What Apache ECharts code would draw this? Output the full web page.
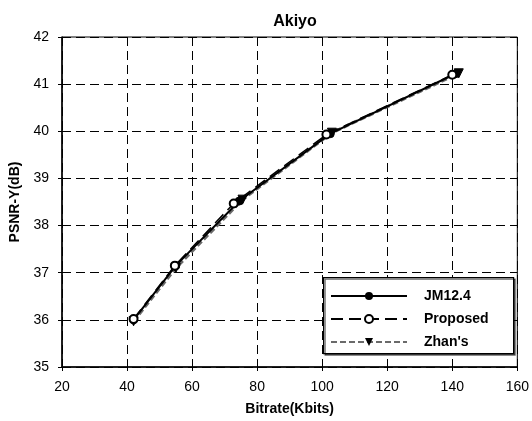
<!DOCTYPE html>
<html>
<head>
<meta charset="utf-8">
<script src="https://cdn.jsdelivr.net/npm/echarts@6/dist/echarts.min.js"></script>
<style>html,body{margin:0;padding:0;background:#fff}#c{width:532px;height:421px}</style>
</head>
<body>
<div id="c"></div>
<script>
const titleText = 'Akiyo';
const xName = 'Bitrate(Kbits)';
const yName = 'PSNR-Y(dB)';
const seriesNames = ['JM12.4', 'Proposed', "Zhan's"];
const jmBitrate = [42, 55, 74.5, 102.5, 141];
const jmPsnr = [36.0, 37.15, 38.52, 39.95, 41.22];
const propBitrate = [42, 54.7, 72.8, 101.3, 140];
const propPsnr = [36.02, 37.15, 38.47, 39.93, 41.2];
const zhanBitrate = [42, 55, 75.5, 103, 142];
const zhanPsnr = [35.97, 37.1, 38.55, 39.97, 41.23];
const xTicks = [20, 40, 60, 80, 100, 120, 140, 160];
const yTicks = [35, 36, 37, 38, 39, 40, 41, 42];

const pairs = (xs, ys) => xs.map((x, i) => [x, ys[i]]);
const FONT = '"Liberation Sans", Arial, sans-serif';

const chart = echarts.init(document.getElementById('c'), null, {renderer: 'canvas'});
chart.setOption({
  animation: false,
  backgroundColor: '#fff',
  title: {
    text: titleText, left: 290, top: 9, textAlign: 'center',
    textStyle: {fontFamily: FONT, fontWeight: 'bold', fontSize: 16, color: '#000'}
  },
  grid: {left: 62, right: 14, top: 37, bottom: 54, show: true, borderColor: '#000', borderWidth: 1, backgroundColor: 'transparent'},
  xAxis: {
    type: 'value', min: xTicks[0], max: xTicks[xTicks.length - 1], interval: 20,
    name: xName, nameLocation: 'middle', nameGap: 35,
    nameTextStyle: {fontFamily: FONT, fontWeight: 'bold', fontSize: 14, color: '#000'},
    axisLine: {show: true, lineStyle: {color: '#000', width: 1.5}},
    axisTick: {show: true, length: 4, lineStyle: {color: '#000'}},
    axisLabel: {fontFamily: FONT, fontSize: 14, color: '#000', margin: 13},
    splitLine: {show: true, lineStyle: {color: '#000', width: 1, type: [9, 5]}}
  },
  yAxis: {
    type: 'value', min: yTicks[0], max: yTicks[yTicks.length - 1], interval: 1,
    name: yName, nameLocation: 'middle', nameGap: 34, nameRotate: 90,
    nameTextStyle: {fontFamily: FONT, fontWeight: 'bold', fontSize: 14, color: '#000'},
    axisLine: {show: true, lineStyle: {color: '#000', width: 1.5}},
    axisTick: {show: true, length: 4, lineStyle: {color: '#000'}},
    axisLabel: {fontFamily: FONT, fontSize: 14, color: '#000', margin: 13},
    splitLine: {show: true, lineStyle: {color: '#000', width: 1, type: [9, 5]}}
  },
  graphic: [{
    type: 'rect', left: 323, top: 277, z: 10,
    shape: {width: 190, height: 76},
    style: {fill: '#fff', stroke: '#000', lineWidth: 1.2, shadowColor: 'rgba(0,0,0,0.6)', shadowOffsetX: 1.5, shadowOffsetY: 1.5}
  }],
  legend: {
    orient: 'vertical', left: 330, top: 289, z: 20, padding: 0,
    itemWidth: 76, itemHeight: 10, itemGap: 9,
    data: seriesNames,
    textStyle: {fontFamily: FONT, fontWeight: 'bold', fontSize: 14, color: '#000', padding: [0, 0, 0, 12]}
  },
  series: [
    {
      name: seriesNames[2], type: 'line', data: pairs(zhanBitrate, zhanPsnr), z: 2,
      symbol: 'triangle', symbolRotate: 180, symbolSize: 9,
      lineStyle: {color: '#6a6a6a', width: 3, type: [6, 3]},
      itemStyle: {color: '#000', borderColor: '#000'}
    },
    {
      name: seriesNames[0], type: 'line', data: pairs(jmBitrate, jmPsnr), z: 3,
      symbol: 'circle', symbolSize: 8,
      lineStyle: {color: '#000', width: 2},
      itemStyle: {color: '#000', borderColor: '#000'}
    },
    {
      name: seriesNames[1], type: 'line', data: pairs(propBitrate, propPsnr), z: 4,
      symbol: 'emptyCircle', symbolSize: 8,
      lineStyle: {color: '#000', width: 1.5, type: [12, 6]},
      itemStyle: {color: '#000', borderColor: '#000', borderWidth: 1.2}
    }
  ]
});
</script>
</body>
</html>
